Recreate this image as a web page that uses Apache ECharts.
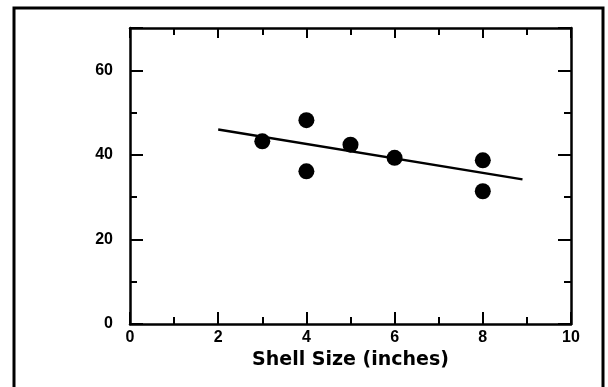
<!DOCTYPE html>
<html lang="en">
<head>
    <meta charset="UTF-8">
    <title>Shell Size</title>
    <style>
        html, body { margin: 0; padding: 0; background: #fff; }
        #chart1 { width: 608px; height: 387px; }
    </style>
</head>
<body>
<div id="chart1"></div>
<script src="https://cdn.jsdelivr.net/npm/echarts@6/dist/echarts.min.js"></script>
<script type="text/javascript">
    // measured points
    var shellX = [3, 4, 4, 5, 6, 8, 8];
    var shellY = [43.2, 48.2, 36.1, 42.4, 39.3, 38.7, 31.4];
    // fitted line ends
    var fitX = [2, 8.9];
    var fitY = [46.0, 34.2];
    var xTicks = [0, 2, 4, 6, 8, 10];
    var yTicks = [0, 20, 40, 60];

    var chart1 = echarts.init(document.getElementById('chart1'));

    var points = shellX.map(function (x, i) { return [x, shellY[i]]; });
    var fit = fitX.map(function (x, i) { return [x, fitY[i]]; });

    var font = 'Liberation Sans, Arial, sans-serif';
    var axisLine = {show: true, onZero: false, lineStyle: {color: '#000', width: 2.5}};

    chart1.setOption({
        backgroundColor: '#fff',
        animation: false,
        grid: {left: 130, right: 37, top: 28, bottom: 63},
        graphic: [{
            type: 'rect',
            shape: {x: 14, y: 8, width: 589, height: 400},
            style: {fill: 'none', stroke: '#000', lineWidth: 3}
        }],
        xAxis: [{
            type: 'value',
            min: 0, max: 10, interval: 2,
            position: 'bottom',
            name: 'Shell Size (inches)',
            nameLocation: 'middle',
            nameGap: 23,
            nameTextStyle: {color: '#000', fontSize: 19, fontWeight: 'bold', fontFamily: 'DejaVu Sans, sans-serif'},
            axisLine: axisLine,
            axisTick: {inside: true, length: 12, lineStyle: {color: '#000', width: 2}},
            minorTick: {show: true, splitNumber: 2, length: 7, lineStyle: {color: '#000', width: 2}},
            axisLabel: {
                color: '#000', fontSize: 16, fontWeight: 'bold', fontFamily: font, margin: 6,
                formatter: function (v) { return xTicks.indexOf(v) >= 0 ? String(v) : ''; }
            },
            splitLine: {show: false}
        }, {
            type: 'value',
            min: 0, max: 10, interval: 2,
            position: 'top',
            axisLine: axisLine,
            axisTick: {inside: true, length: 10, lineStyle: {color: '#000', width: 2}},
            minorTick: {show: true, splitNumber: 2, length: 7, lineStyle: {color: '#000', width: 2}},
            axisLabel: {show: false},
            splitLine: {show: false}
        }],
        yAxis: [{
            type: 'value',
            min: 0, max: 70, interval: 20,
            position: 'left',
            axisLine: axisLine,
            axisTick: {inside: true, length: 13, lineStyle: {color: '#000', width: 2}},
            minorTick: {show: true, splitNumber: 2, length: 7, lineStyle: {color: '#000', width: 2}},
            axisLabel: {
                color: '#000', fontSize: 16, fontWeight: 'bold', fontFamily: font, margin: 17,
                formatter: function (v) { return yTicks.indexOf(v) >= 0 ? String(v) : ''; }
            },
            splitLine: {show: false}
        }, {
            type: 'value',
            min: 0, max: 70, interval: 20,
            position: 'right',
            axisLine: axisLine,
            axisTick: {inside: true, length: 13, lineStyle: {color: '#000', width: 2}},
            minorTick: {show: true, splitNumber: 2, length: 7, lineStyle: {color: '#000', width: 2}},
            axisLabel: {show: false},
            splitLine: {show: false}
        }],
        series: [{
            type: 'line',
            data: fit,
            symbol: 'none',
            lineStyle: {color: '#000', width: 2.5},
            z: 2
        }, {
            type: 'scatter',
            data: points,
            symbol: 'circle',
            symbolSize: 16,
            itemStyle: {color: '#000', opacity: 1},
            z: 3
        }]
    }, true);
</script>
</body>
</html>
